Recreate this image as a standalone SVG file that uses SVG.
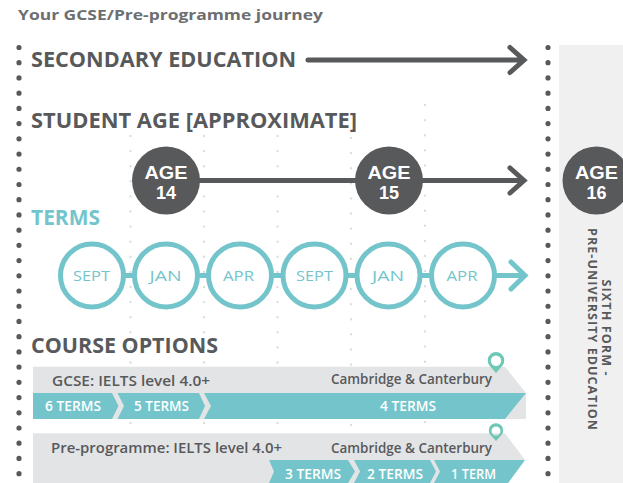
<svg xmlns="http://www.w3.org/2000/svg" width="623" height="483" viewBox="0 0 623 483">
<style>
text{font-family:"Open Sans","Liberation Sans",sans-serif}
.h{font-size:20.500px;font-weight:700;fill:#58595b}
.dot{stroke:#58595b;stroke-width:5.2;stroke-linecap:round;stroke-dasharray:0 15.22;fill:none}
.faint{stroke:#dcdddd;stroke-width:2.4;stroke-linecap:round;stroke-dasharray:0 15.1;fill:none}
.dk{stroke:#58595b;stroke-width:5;fill:none;stroke-linecap:round;stroke-linejoin:miter}
.tl{stroke:#73c5cb;stroke-width:5;fill:none;stroke-linecap:round}
.age{fill:#58595b}
.agt{font-family:"Liberation Sans",Arial,sans-serif;font-size:18px;font-weight:700;fill:#fff;text-anchor:middle}
.term{fill:#fff;stroke:#73c5cb;stroke-width:5}
.tt{font-size:15px;font-weight:500;fill:#73c5cb;text-anchor:middle}
.band{fill:#e3e4e6}
.teal{fill:#73c5cb}
.wt{font-size:13.500px;font-weight:600;fill:#fff}
.bt{font-size:13.800px;font-weight:600;fill:#58595b}
.pin{fill:#6fc7b6}
.v{font-size:12.500px;font-weight:700;fill:#58595b}
</style>
<rect id="sixth-form-panel" x="559" y="45" width="64" height="438" fill="#f0f0f0"/>
<g id="grid">
<path class="faint" d="M130.500 136V425M204 136V425M277.500 136V425M351 138V425M425 105V425"/>
<path class="dot" d="M19 47.500V480M548 47.500V480"/>
</g>
<text id="title" x="18" y="19.500" font-size="14.500" font-weight="700" fill="#6d6e71" textLength="305" lengthAdjust="spacingAndGlyphs">Your GCSE/Pre-programme journey</text>
<text id="h-secondary" class="h" x="31" y="67" textLength="265" lengthAdjust="spacingAndGlyphs">SECONDARY EDUCATION</text>
<text id="h-age" class="h" x="31" y="127.500" textLength="326" lengthAdjust="spacingAndGlyphs">STUDENT AGE [APPROXIMATE]</text>
<text id="h-terms" class="h" x="31" y="224.500" style="fill:#73c5cb" textLength="69" lengthAdjust="spacingAndGlyphs">TERMS</text>
<text id="h-course" class="h" x="31" y="352.500" textLength="187" lengthAdjust="spacingAndGlyphs">COURSE OPTIONS</text>
<g id="connectors">
<path class="dk" d="M308 60H522M510 47.500L524 60L510 72.500"/>
<path class="dk" d="M166 180.500H522M510 168L524 180.500L510 193"/>
<path class="tl" d="M92 275.500H522M511 262L525 275.500L511 289"/>
</g>
<g id="age-14"><circle class="age" cx="166" cy="180.500" r="34"/><text class="agt" x="166" y="178.500" textLength="43" lengthAdjust="spacingAndGlyphs">AGE</text><text class="agt" x="166" y="199.300">14</text></g>
<g id="age-15"><circle class="age" cx="389" cy="180.500" r="34"/><text class="agt" x="389" y="178.500" textLength="43" lengthAdjust="spacingAndGlyphs">AGE</text><text class="agt" x="389" y="199.300">15</text></g>
<g id="age-16"><circle class="age" cx="596.500" cy="180.500" r="34"/><text class="agt" x="596.500" y="178.500" textLength="43" lengthAdjust="spacingAndGlyphs">AGE</text><text class="agt" x="596.500" y="199.300">16</text></g>
<g id="term-1"><circle class="term" cx="92" cy="275.500" r="31.500"/><text class="tt" x="91.500" y="280.500" textLength="37" lengthAdjust="spacingAndGlyphs">SEPT</text></g>
<g id="term-2"><circle class="term" cx="166" cy="275.500" r="31.500"/><text class="tt" x="165.500" y="280.500" textLength="32" lengthAdjust="spacingAndGlyphs">JAN</text></g>
<g id="term-3"><circle class="term" cx="240" cy="275.500" r="31.500"/><text class="tt" x="238.500" y="280.500" textLength="31" lengthAdjust="spacingAndGlyphs">APR</text></g>
<g id="term-4"><circle class="term" cx="314.500" cy="275.500" r="31.500"/><text class="tt" x="314.500" y="280.500" textLength="37" lengthAdjust="spacingAndGlyphs">SEPT</text></g>
<g id="term-5"><circle class="term" cx="388.500" cy="275.500" r="31.500"/><text class="tt" x="388" y="280.500" textLength="32" lengthAdjust="spacingAndGlyphs">JAN</text></g>
<g id="term-6"><circle class="term" cx="463" cy="275.500" r="31.500"/><text class="tt" x="462" y="280.500" textLength="31" lengthAdjust="spacingAndGlyphs">APR</text></g>
<g id="gcse-option">
<path class="band" d="M33 366.700H505L526 393V419H33Z"/>
<path class="teal" d="M33 393H112L118.500 406L112 419H33Z"/>
<path class="teal" d="M117.500 393H199L205 406L199 419H117.500L124 406Z"/>
<path class="teal" d="M204 393H526L505 419H204L211 406Z"/>
<text class="bt" x="52" y="386" textLength="158" lengthAdjust="spacingAndGlyphs">GCSE: IELTS level 4.0+</text>
<text class="bt" x="331" y="384" textLength="161" lengthAdjust="spacingAndGlyphs">Cambridge &amp; Canterbury</text>
<text class="wt" x="45" y="410.500" textLength="56" lengthAdjust="spacingAndGlyphs">6 TERMS</text>
<text class="wt" x="134" y="410.500" textLength="55" lengthAdjust="spacingAndGlyphs">5 TERMS</text>
<text class="wt" x="380" y="410.500" textLength="56" lengthAdjust="spacingAndGlyphs">4 TERMS</text>
<path class="pin" fill-rule="evenodd" d="M496 373L489.500 365.500A8.300 8.300 0 1 1 502.500 365.500ZM496 355.500A5.200 5.200 0 1 0 496 365.900A5.200 5.200 0 1 0 496 355.500Z"/>
</g>
<g id="pre-programme-option">
<path class="band" d="M33 433.300H505L525 460L508 483H33Z"/>
<path class="teal" d="M269 460H348L355 471.500L348 483H269L274 471.500Z"/>
<path class="teal" d="M354 460H430L436 471.500L430 483H354L360 471.500Z"/>
<path class="teal" d="M434 460H525L508 483H434L440 471.500Z"/>
<text class="bt" x="51" y="453" textLength="231" lengthAdjust="spacingAndGlyphs">Pre-programme: IELTS level 4.0+</text>
<text class="bt" x="331" y="453" textLength="161" lengthAdjust="spacingAndGlyphs">Cambridge &amp; Canterbury</text>
<text class="wt" x="285" y="478.500" textLength="56" lengthAdjust="spacingAndGlyphs">3 TERMS</text>
<text class="wt" x="367" y="478.500" textLength="56" lengthAdjust="spacingAndGlyphs">2 TERMS</text>
<text class="wt" x="451" y="478.500" textLength="45" lengthAdjust="spacingAndGlyphs">1 TERM</text>
<path class="pin" fill-rule="evenodd" d="M496 441L490.500 435A7.200 7.200 0 1 1 501.500 435ZM496 426.500A4.500 4.500 0 1 0 496 435.500A4.500 4.500 0 1 0 496 426.500Z"/>
</g>
<g id="sixth-form-label">
<text class="v" transform="translate(587.500 228) rotate(90)" textLength="202">PRE-UNIVERSITY EDUCATION</text>
<text class="v" transform="translate(602 279.500) rotate(90)" textLength="96">SIXTH FORM -</text>
</g>
</svg>
